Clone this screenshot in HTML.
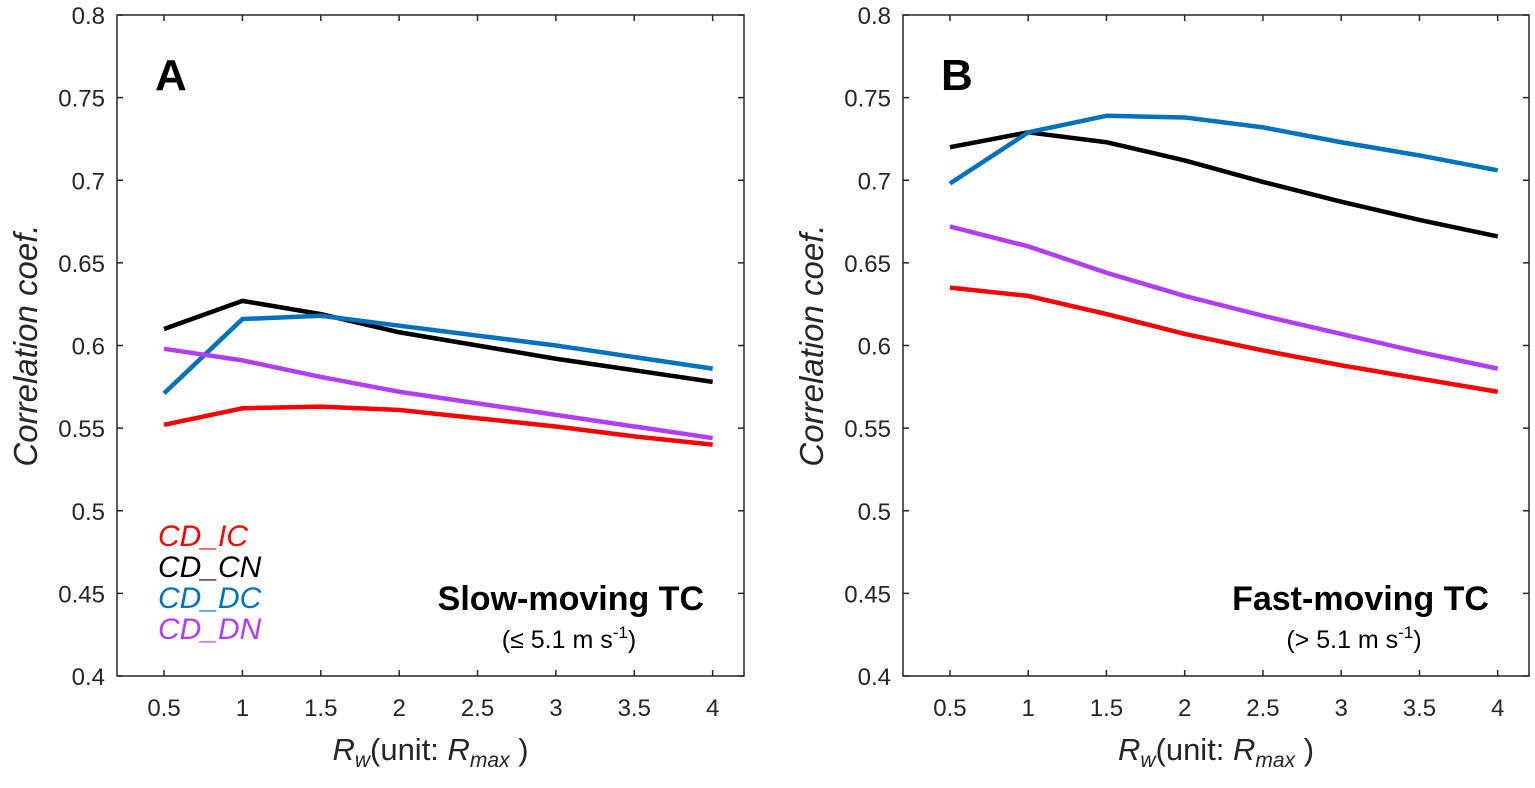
<!DOCTYPE html>
<html><head><meta charset="utf-8"><style>
body{margin:0;background:#fff}
text{font-family:"Liberation Sans",Arial,sans-serif}
</style></head><body>
<svg id="svg" width="1535" height="783" xmlns="http://www.w3.org/2000/svg"></svg>
<script>
const xVals=[0.5,1,1.5,2,2.5,3,3.5,4];
const xTicks=[0.5,1,1.5,2,2.5,3,3.5,4];
const yTicks=[0.4,0.45,0.5,0.55,0.6,0.65,0.7,0.75,0.8];
const seriesNames=["CD_IC","CD_CN","CD_DC","CD_DN"];
const colors=["#ff0000","#000000","#0072bd","#b23cff"];
const aIC=[0.552,0.562,0.563,0.561,0.556,0.551,0.545,0.540];
const aCN=[0.610,0.627,0.619,0.608,0.600,0.592,0.585,0.578];
const aDC=[0.571,0.616,0.618,0.612,0.606,0.600,0.593,0.586];
const aDN=[0.598,0.591,0.581,0.572,0.565,0.558,0.551,0.544];
const bIC=[0.635,0.630,0.619,0.607,0.597,0.588,0.580,0.572];
const bCN=[0.720,0.729,0.723,0.712,0.699,0.687,0.676,0.666];
const bDC=[0.698,0.729,0.739,0.738,0.732,0.723,0.715,0.706];
const bDN=[0.672,0.660,0.644,0.630,0.618,0.607,0.596,0.586];
const svg=document.getElementById('svg');
const NS="http://www.w3.org/2000/svg";
function el(t,a,p){const e=document.createElementNS(NS,t);for(const k in a)e.setAttribute(k,a[k]);(p||svg).appendChild(e);return e;}
function panel(id,left,right,series,letter,title,sub){
  const top=15,bot=676;
  const g=el('g',{});
  
  
  const sx=v=>left+(v-0.2)/4*(right-left);
  const sy=v=>bot-(v-0.4)/0.4*(bot-top);
  const box=el('rect',{x:left,y:top,width:right-left,height:bot-top,fill:'none',stroke:'#262626','stroke-width':1.5},g);
  
  
  xTicks.forEach(t=>{const x=sx(t);
    el('line',{x1:x,x2:x,y1:bot,y2:bot-6,stroke:'#262626','stroke-width':1.5},g);
    el('line',{x1:x,x2:x,y1:top,y2:top+6,stroke:'#262626','stroke-width':1.5},g);
    const tx=el('text',{x:x,y:bot+40,'font-size':24,'text-anchor':'middle',fill:'#262626'},g);tx.textContent=String(t);
    
    });
  yTicks.forEach(t=>{const y=sy(t);
    el('line',{x1:left,x2:left+6,y1:y,y2:y,stroke:'#262626','stroke-width':1.5},g);
    el('line',{x1:right,x2:right-6,y1:y,y2:y,stroke:'#262626','stroke-width':1.5},g);
    const tx=el('text',{x:left-12,y:y+9,'font-size':24,'text-anchor':'end',fill:'#262626'},g);tx.textContent=String(t);
    
    });
  series.forEach((s,i)=>{
    const p=el('polyline',{points:s.map((v,j)=>sx(xVals[j])+','+sy(v)).join(' '),fill:'none',stroke:colors[i],'stroke-width':4.5,'stroke-linejoin':'round'},g);
    
    });
  const cx=(left+right)/2;
  const yl=el('text',{x:0,y:0,'font-size':33,'font-style':'italic','text-anchor':'middle',fill:'#262626',transform:`translate(${left-80},${(top+bot)/2}) rotate(-90)`},g);
  yl.textContent='Correlation coef.';
  
  
  const xl=el('text',{x:cx,y:760,'font-size':31,'text-anchor':'middle',fill:'#262626'},g);
  xl.innerHTML='<tspan font-style="italic">R</tspan><tspan font-style="italic" font-size="21" dy="7">w</tspan><tspan dy="-7">(unit: </tspan><tspan font-style="italic">R</tspan><tspan font-style="italic" font-size="21" dy="7">max</tspan><tspan dy="-7"> )</tspan>';
  
  
  const L=el('text',{x:left+38,y:90,'font-size':44,'font-weight':'bold',fill:'#000'},g);L.textContent=letter;
  
  
  const T=el('text',{x:right-40,y:610,'font-size':34,'font-weight':'bold','text-anchor':'end',fill:'#000'},g);T.textContent=title;
  
  
  const S=el('text',{x:right-175,y:648,'font-size':25,'text-anchor':'middle',fill:'#000'},g);
  S.innerHTML='('+sub+' 5.1 m s<tspan font-size="17" dy="-10">-1</tspan><tspan dy="10">)</tspan>';
  
  
}
panel('a',117,744,[aIC,aCN,aDC,aDN],'A','Slow-moving TC','≤');
panel('b',903,1529,[bIC,bCN,bDC,bDN],'B','Fast-moving TC','>');
seriesNames.forEach((n,i)=>{
  const t=el('text',{x:158,y:546+i*31,'font-size':30,'font-style':'italic',fill:colors[i]});
  t.textContent=n;
  
  
});
</script>
</body></html>
